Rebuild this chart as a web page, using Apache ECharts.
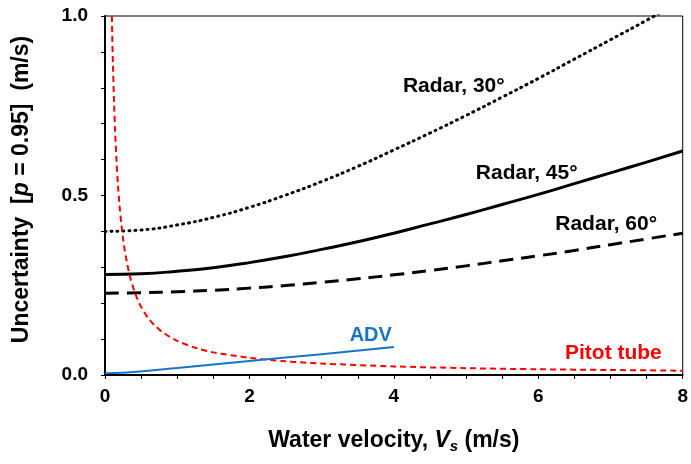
<!DOCTYPE html>
<html>
<head>
<meta charset="utf-8">
<script src="https://cdn.jsdelivr.net/npm/echarts@6/dist/echarts.min.js"></script>
<style>
  html, body { margin: 0; padding: 0; background: #fff; }
  #chart { width: 691px; height: 464px; }
</style>
</head>
<body>
<div id="chart"></div>
<script>
  // water velocity (m/s) for the radar curves
  const radarV = [0, 0.5, 1, 1.5, 2, 2.5, 3, 3.5, 4, 4.5, 5, 5.5, 6, 6.5, 7, 7.5, 8];
  const radar30 = [0.400, 0.404, 0.418, 0.439, 0.467, 0.501, 0.539, 0.581, 0.627, 0.674, 0.723, 0.774, 0.826, 0.880, 0.934, 0.988, 1.044];
  const radar45 = [0.280, 0.282, 0.289, 0.299, 0.313, 0.330, 0.350, 0.371, 0.395, 0.421, 0.447, 0.475, 0.503, 0.533, 0.563, 0.593, 0.624];
  const radar60 = [0.228, 0.229, 0.232, 0.236, 0.242, 0.249, 0.258, 0.268, 0.279, 0.291, 0.304, 0.318, 0.332, 0.347, 0.363, 0.379, 0.395];

  // pitot tube
  const pitotV = [0.09, 0.1, 0.11, 0.125, 0.14, 0.16, 0.18, 0.2, 0.23, 0.26, 0.3, 0.35, 0.4, 0.45, 0.5, 0.6, 0.7, 0.8, 1, 1.25, 1.5, 2, 2.5, 3, 4, 5, 6, 7, 8];
  const pitot = [1.056, 0.950, 0.864, 0.760, 0.679, 0.594, 0.528, 0.475, 0.413, 0.365, 0.317, 0.271, 0.238, 0.211, 0.190, 0.158, 0.136, 0.119, 0.095, 0.076, 0.063, 0.048, 0.038, 0.032, 0.024, 0.019, 0.016, 0.014, 0.012];

  // ADV
  const advV = [0, 0.3, 1, 2, 3, 4];
  const adv = [0.005, 0.007, 0.0195, 0.039, 0.058, 0.078];

  // label anchors [v, uncertainty]
  const label30 = [4.83, 0.805];
  const label45 = [5.84, 0.561];
  const label60 = [6.94, 0.421];
  const labelAdv = [3.68, 0.110];
  const labelPitot = [7.04, 0.062];

  const pair = (xs, ys) => xs.map((x, i) => [x, ys[i]]);
  const textFont = 'Liberation Sans, Arial, sans-serif';

  function note(pt, text, color, size) {
    return {
      symbol: 'circle',
      symbolSize: 0,
      silent: true,
      label: {
        show: true,
        position: 'inside',
        formatter: text,
        color: color,
        fontFamily: textFont,
        fontWeight: 'bold',
        fontSize: size || 21
      },
      data: [{ coord: pt }]
    };
  }

  let chart = echarts.init(document.getElementById('chart'));
  chart.setOption({
    animation: false,
    grid: {
      left: 105, right: 5, top: 16, bottom: 89,
      show: true, borderColor: '#000', borderWidth: 1
    },
    xAxis: {
      type: 'value', min: 0, max: 8, interval: 0.5,
      splitLine: { show: false },
      axisLine: { lineStyle: { color: '#000', width: 2 } },
      axisTick: { length: 4, lineStyle: { color: '#000', width: 1 } },
      axisLabel: {
        margin: 12,
        color: '#000', fontFamily: textFont, fontWeight: 'bold', fontSize: 19,
        formatter: v => (Math.round(v * 2) % 4 === 0 ? String(Math.round(v)) : '')
      },
      name: '{n|Water velocity, }{i|V}{s|s}{n| (m/s)}',
      nameLocation: 'middle',
      nameGap: 53,
      nameTextStyle: {
        rich: {
          n: { fontFamily: textFont, fontWeight: 'bold', fontSize: 23, color: '#000' },
          i: { fontFamily: textFont, fontWeight: 'bold', fontStyle: 'italic', fontSize: 23, color: '#000' },
          s: { fontFamily: textFont, fontWeight: 'bold', fontStyle: 'italic', fontSize: 15, color: '#000', padding: [11, 0, 0, 0] }
        }
      }
    },
    yAxis: {
      type: 'value', min: 0, max: 1, interval: 0.1,
      splitLine: { show: false },
      axisLine: { lineStyle: { color: '#000', width: 2 } },
      axisTick: { length: 4, lineStyle: { color: '#000', width: 1 } },
      axisLabel: {
        margin: 17,
        color: '#000', fontFamily: textFont, fontWeight: 'bold', fontSize: 19,
        formatter: v => (Math.round(v * 10) % 5 === 0 ? v.toFixed(1) : '')
      },
      name: '{n|Uncertainty  [}{i|p}{n| = 0.95]  (m/s)}',
      nameLocation: 'middle',
      nameGap: 72,
      nameTextStyle: {
        padding: [0, 0, 0, 12],
        rich: {
          n: { fontFamily: textFont, fontWeight: 'bold', fontSize: 23, color: '#000' },
          i: { fontFamily: textFont, fontWeight: 'bold', fontStyle: 'italic', fontSize: 23, color: '#000' }
        }
      }
    },
    series: [
      {
        name: 'Radar, 30°', type: 'line', smooth: true, showSymbol: false,
        data: pair(radarV, radar30),
        lineStyle: { color: '#000', width: 3, type: [1, 5], cap: 'round' },
        markPoint: note(label30, 'Radar, 30°', '#000')
      },
      {
        name: 'Radar, 45°', type: 'line', smooth: true, showSymbol: false,
        data: pair(radarV, radar45),
        lineStyle: { color: '#000', width: 3 },
        markPoint: note(label45, 'Radar, 45°', '#000')
      },
      {
        name: 'Radar, 60°', type: 'line', smooth: true, showSymbol: false,
        data: pair(radarV, radar60),
        lineStyle: { color: '#000', width: 3, type: [14, 8] },
        markPoint: note(label60, 'Radar, 60°', '#000')
      },
      {
        name: 'Pitot tube', type: 'line', smooth: 0.3, showSymbol: false,
        data: pair(pitotV, pitot),
        lineStyle: { color: '#ff0000', width: 2, type: [6, 4] },
        markPoint: note(labelPitot, 'Pitot tube', '#ff0000')
      },
      {
        name: 'ADV', type: 'line', smooth: true, showSymbol: false,
        data: pair(advV, adv),
        lineStyle: { color: '#1874c8', width: 2 },
        markPoint: note(labelAdv, 'ADV', '#1874c8', 20)
      }
    ]
  });
</script>
</body>
</html>
